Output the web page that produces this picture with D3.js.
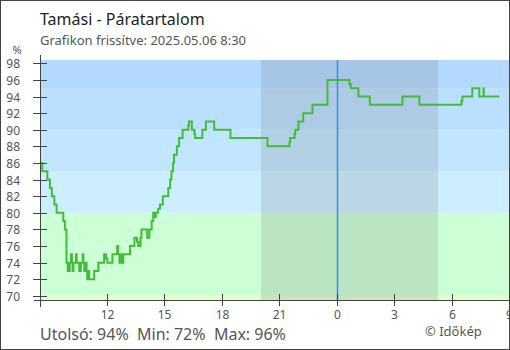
<!DOCTYPE html>
<html><head><meta charset="utf-8">
<script src="https://cdn.jsdelivr.net/npm/d3@7"></script>
<style>
body{margin:0;background:#fff;}
svg text{font-family:"Noto Sans",sans-serif;}
</style></head>
<body><svg id="c" width="510" height="350"></svg>
<script>
const title = "Tamási - Páratartalom";
const subtitle = "Grafikon frissítve: 2025.05.06 8:30";
const unitLabel = "%";
const footerStats = "Utolsó: 94%  Min: 72%  Max: 96%";
const credit = "© Időkép";

const times = [
"2025-05-05 08:30","2025-05-05 08:37","2025-05-05 08:53","2025-05-05 09:01","2025-05-05 09:07",
"2025-05-05 09:15","2025-05-05 09:22","2025-05-05 09:43","2025-05-05 09:48","2025-05-05 09:53",
"2025-05-05 09:57","2025-05-05 10:03","2025-05-05 10:07","2025-05-05 10:10","2025-05-05 10:12",
"2025-05-05 10:15","2025-05-05 10:23","2025-05-05 10:25","2025-05-05 10:33","2025-05-05 10:38",
"2025-05-05 10:44","2025-05-05 10:46","2025-05-05 10:49","2025-05-05 10:52","2025-05-05 10:56",
"2025-05-05 10:58","2025-05-05 11:01","2025-05-05 11:04","2025-05-05 11:20","2025-05-05 11:33",
"2025-05-05 11:51","2025-05-05 11:57","2025-05-05 12:01","2025-05-05 12:17","2025-05-05 12:32",
"2025-05-05 12:35","2025-05-05 12:39","2025-05-05 12:43","2025-05-05 12:47","2025-05-05 12:51",
"2025-05-05 13:12","2025-05-05 13:26","2025-05-05 13:34","2025-05-05 13:38","2025-05-05 13:45",
"2025-05-05 13:48","2025-05-05 14:06","2025-05-05 14:13","2025-05-05 14:20","2025-05-05 14:25",
"2025-05-05 14:30","2025-05-05 14:33","2025-05-05 14:40","2025-05-05 14:46","2025-05-05 14:55",
"2025-05-05 15:12","2025-05-05 15:18","2025-05-05 15:22","2025-05-05 15:27","2025-05-05 15:30",
"2025-05-05 15:39","2025-05-05 15:46","2025-05-05 15:57","2025-05-05 16:15","2025-05-05 16:17",
"2025-05-05 16:26","2025-05-05 16:34","2025-05-05 16:36","2025-05-05 16:59","2025-05-05 17:10",
"2025-05-05 17:36","2025-05-05 18:27","2025-05-05 20:23","2025-05-05 21:32","2025-05-05 21:34",
"2025-05-05 21:48","2025-05-05 21:50","2025-05-05 22:00","2025-05-05 22:15","2025-05-05 22:44",
"2025-05-05 23:31","2025-05-06 00:40","2025-05-06 00:44","2025-05-06 01:08","2025-05-06 01:44",
"2025-05-06 03:26","2025-05-06 04:19","2025-05-06 06:31","2025-05-06 06:34","2025-05-06 07:05",
"2025-05-06 07:27","2025-05-06 07:40","2025-05-06 07:41","2025-05-06 08:30"
];
const humidity = [
86,85,84,83,82,
81,80,79,78,74,
73,74,75,74,73,
74,75,74,73,74,
75,74,73,74,73,
72,73,72,73,74,
75,74.5,74,75,76,
75,74,75,74,75,
76,77,76.5,76,77,
78,77,78,79,80,
79.5,80,80.5,81,82,
83,84,85,86,87,
88,89,90,90.5,91,
90,89.5,89,90,91,
90,89,88,88.5,89,
89.5,90,91,92,93,
96,95.5,95,94,93,
94,93,93.5,94,95,
94,95,94,94
];

const yTicks = [70,72,74,76,78,80,82,84,86,88,90,92,94,96,98];
const xTickTimes = ["2025-05-05 12:00","2025-05-05 15:00","2025-05-05 18:00","2025-05-05 21:00","2025-05-06 00:00","2025-05-06 03:00","2025-05-06 06:00","2025-05-06 09:00"];
const xTickLabels = ["12","15","18","21","0","3","6","9"];
const xDomain = ["2025-05-05 08:30","2025-05-06 09:00"];
const yDomain = [69.5, 98.4];
const bandEdges = [69.5, 70, 80, 85, 90, 95, 98.4];
const bandColors = ["#e2ffcc","#ccffd6","#cceeff","#c2e6ff","#bbe0ff","#b3d9ff"];
const nightSpan = ["2025-05-05 20:03","2025-05-06 05:18"];
const nowMark = "2025-05-06 00:00";

const parse = d3.timeParse("%Y-%m-%d %H:%M");
const data = times.map((t,i)=>({t:parse(t), v:humidity[i]}));

const L=40, R=509, T=60, B=300;
const x = d3.scaleTime().domain(xDomain.map(parse)).range([L,R]);
const y = d3.scaleLinear().domain(yDomain).range([B,T]);

const svg = d3.select("#c");

// bands
for(let i=0;i<bandColors.length;i++){
  svg.append("rect").attr("x",L).attr("width",R-L+1)
    .attr("y",y(bandEdges[i+1])).attr("height",y(bandEdges[i])-y(bandEdges[i+1]))
    .attr("fill",bandColors[i]);
}
// night
const n0 = x(parse(nightSpan[0])), n1 = x(parse(nightSpan[1]));
svg.append("rect").attr("x",n0).attr("width",n1-n0).attr("y",T).attr("height",B-T)
  .attr("fill","rgba(120,120,120,0.2)");

// midnight line
const mx = Math.round(x(parse(nowMark)))+0.5;
svg.append("line").attr("x1",mx).attr("x2",mx)
  .attr("y1",T).attr("y2",B).attr("stroke","#2a93ea").attr("stroke-width",1.5);

// line
const line = d3.line().x(d=>x(d.t)).y(d=>y(d.v)).curve(d3.curveStepAfter);
svg.append("path").datum(data).attr("d",line).attr("fill","none")
  .attr("stroke","#44bb3a").attr("stroke-width",2);

// y axis
const axisColor="#444";
svg.append("line").attr("x1",L+0.5).attr("x2",L+0.5).attr("y1",55).attr("y2",307).attr("stroke",axisColor);
const yg = svg.append("g");
yTicks.forEach(v=>{
  const yy = Math.round(y(v))+0.5;
  yg.append("line").attr("x1",33).attr("x2",47).attr("y1",yy).attr("y2",yy).attr("stroke",axisColor);
  yg.append("text").attr("x",20).attr("y",yy).attr("dy","0.36em").attr("text-anchor","end")
    .attr("font-size",12).attr("fill","#555").text(v);
});
// x axis
svg.append("line").attr("x1",34).attr("x2",R).attr("y1",B+0.5).attr("y2",B+0.5).attr("stroke",axisColor);
xTickTimes.forEach((t,i)=>{
  const xx = Math.round(x(parse(t)))+0.5;
  svg.append("line").attr("x1",xx).attr("x2",xx).attr("y1",294).attr("y2",306).attr("stroke",axisColor);
  svg.append("text").attr("x",xx).attr("y",319).attr("text-anchor","middle")
    .attr("font-size",12).attr("fill","#555").text(xTickLabels[i]);
});

// texts
svg.append("text").attr("x",40).attr("y",25).attr("font-size",16).attr("fill","#222").text(title);
svg.append("text").attr("x",40).attr("y",45).attr("font-size",13).attr("fill","#555").text(subtitle);
svg.append("text").attr("x",17).attr("y",54).attr("text-anchor","middle").attr("font-size",11).attr("fill","#555").text(unitLabel);
svg.append("text").attr("x",40).attr("y",340).attr("font-size",16).attr("fill","#555")
  .attr("xml:space","preserve").style("white-space","pre").text(footerStats);
svg.append("text").attr("x",425).attr("y",336).attr("font-size",13).attr("fill","#555").text(credit);

// border
svg.append("rect").attr("x",0.5).attr("y",0.5).attr("width",509).attr("height",349)
  .attr("fill","none").attr("stroke","#444");
</script>
</body></html>
